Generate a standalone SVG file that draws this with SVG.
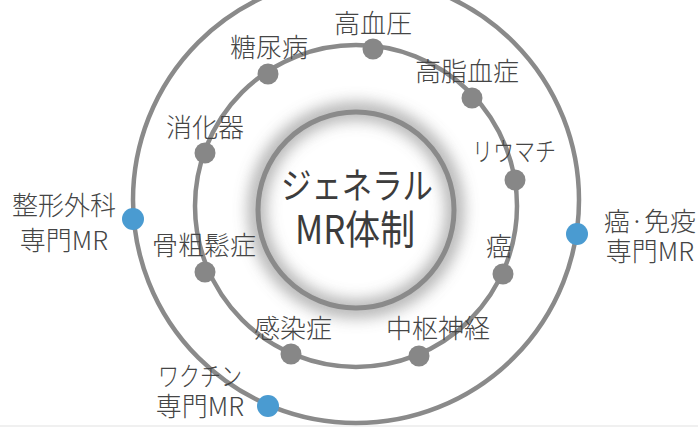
<svg xmlns="http://www.w3.org/2000/svg" width="698" height="427" viewBox="0 0 698 427">
  <style>
    .ring { fill: none; stroke: #8a8a8a; stroke-width: 4.5; }
    .dot { fill: #878787; }
    .bdot { fill: #4a9bd1; }
    .lbl { font-family: "Noto Sans CJK JP", "Noto Sans", sans-serif; font-size: 26px; font-weight: 300; fill: #454545; text-anchor: middle; }
    .ctr { font-family: "Noto Sans CJK JP", "Noto Sans", sans-serif; font-weight: 400; fill: #3c3c3c; text-anchor: middle; }
  </style>
  <defs>
    <filter id="glow" x="-50%" y="-50%" width="200%" height="200%">
      <feGaussianBlur stdDeviation="8"/>
    </filter>
  </defs>
  <rect width="698" height="427" fill="#ffffff"/>
  <rect x="0" y="425" width="698" height="2" fill="#f0f0f0"/>

  <g id="connectors">
    <circle class="ring" cx="356" cy="200" r="223"/>
    <circle class="ring" cx="356" cy="206" r="161"/>
  </g>

  <g id="center">
    <circle cx="356" cy="210" r="99" fill="none" stroke="#9a9a9a" stroke-width="16" filter="url(#glow)" opacity="0.85"/>
    <circle cx="356" cy="210" r="98" fill="none" stroke="#8a8a8a" stroke-width="5"/>
    <text class="ctr" x="357" y="199" font-size="36" textLength="152" lengthAdjust="spacingAndGlyphs">ジェネラル</text>
    <text class="ctr" x="355" y="244" font-size="40" textLength="120" lengthAdjust="spacingAndGlyphs">MR体制</text>
  </g>

  <g id="node-kouketsuatsu">
    <circle class="dot" cx="373" cy="49" r="10.5"/>
    <text class="lbl" x="373" y="33">高血圧</text>
  </g>
  <g id="node-tonyobyo">
    <circle class="dot" cx="268" cy="74" r="10.5"/>
    <text class="lbl" x="269" y="57">糖尿病</text>
  </g>
  <g id="node-koshikessho">
    <circle class="dot" cx="472" cy="98" r="10.5"/>
    <text class="lbl" x="467" y="81">高脂血症</text>
  </g>
  <g id="node-shokaki">
    <circle class="dot" cx="205" cy="153" r="10.5"/>
    <text class="lbl" x="205" y="137">消化器</text>
  </g>
  <g id="node-rheumatism">
    <circle class="dot" cx="515" cy="180" r="10.5"/>
    <text class="lbl" x="514" y="161" textLength="84" lengthAdjust="spacingAndGlyphs">リウマチ</text>
  </g>
  <g id="node-kotsusosho">
    <circle class="dot" cx="205" cy="272" r="10.5"/>
    <text class="lbl" x="204" y="255">骨粗鬆症</text>
  </g>
  <g id="node-gan">
    <circle class="dot" cx="503" cy="274" r="10.5"/>
    <text class="lbl" x="499" y="256">癌</text>
  </g>
  <g id="node-kansensho">
    <circle class="dot" cx="291" cy="354" r="10.5"/>
    <text class="lbl" x="293" y="338">感染症</text>
  </g>
  <g id="node-chusushinkei">
    <circle class="dot" cx="419" cy="356" r="10.5"/>
    <text class="lbl" x="438" y="338">中枢神経</text>
  </g>

  <g id="node-seikei">
    <circle class="bdot" cx="133" cy="219" r="11"/>
    <text class="lbl" x="64" y="215">整形外科</text>
    <text class="lbl" x="64" y="250">専門MR</text>
  </g>
  <g id="node-ganmeneki">
    <circle class="bdot" cx="577" cy="234" r="11"/>
    <text class="lbl" x="650" y="231">癌·免疫</text>
    <text class="lbl" x="650" y="261">専門MR</text>
  </g>
  <g id="node-vaccine">
    <circle class="bdot" cx="268" cy="406" r="11"/>
    <text class="lbl" x="200" y="386" textLength="84" lengthAdjust="spacingAndGlyphs">ワクチン</text>
    <text class="lbl" x="200" y="416">専門MR</text>
  </g>
</svg>
